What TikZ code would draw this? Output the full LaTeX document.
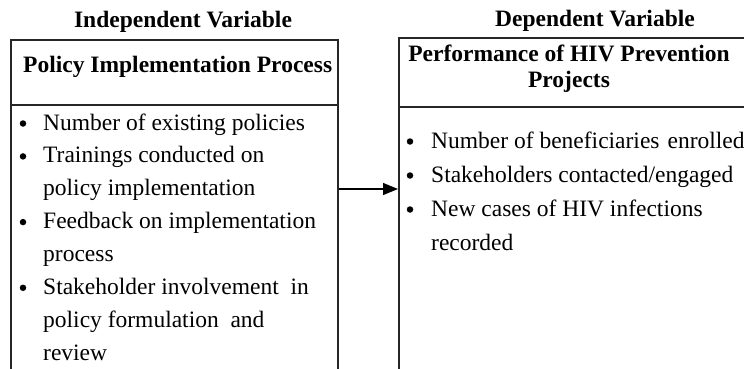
\documentclass[tikz,border=0pt]{standalone}
\usepackage{fontspec}
\setmainfont{Liberation Serif}
\usetikzlibrary{arrows.meta}
\begin{document}
\begin{tikzpicture}[x=1pt,y=-1pt,
  frame/.style={draw=black!85, line width=1.6pt},
  boxshape/.style={frame, rectangle, inner sep=0pt, anchor=north west},
  heading/.style={font=\fontsize{23.5}{26}\selectfont\bfseries, inner sep=0pt, anchor=base},
  item/.style={font=\fontsize{23.5}{28}\selectfont, inner sep=0pt, anchor=base west},
  dot/.style={circle, fill=black, inner sep=0pt, minimum size=6.5pt, yshift=6.5pt}
]
\useasboundingbox (0,0) rectangle (744,369);
\clip (0,0) rectangle (744,369);

% frames of the two variables
\node[boxshape, minimum width=327pt, minimum height=360pt] (ivbox) at (10,39) {};
\node[boxshape, minimum width=400pt, minimum height=360pt] (dvbox) at (398,37) {};
\coordinate (ivdiv) at (0,105);
\coordinate (dvdiv) at (0,107);
\draw[frame] (ivbox.west |- ivdiv) -- (ivbox.east |- ivdiv);
\draw[frame] (dvbox.west |- dvdiv) -- (dvbox.east |- dvdiv);

% link between the variables
\coordinate (arrowrow) at (0,189);
\draw[line width=1.3pt, -{Triangle[length=15pt,width=12pt]}]
  (ivbox.east |- arrowrow) -- (dvbox.west |- arrowrow);

% headings
\node[heading] (ivtitle) at (183,28) {Independent Variable};
\node[heading] (dvtitle) at (595,27) {Dependent Variable};
\node[heading, anchor=base west] (ivhead) at (23,72) {Policy Implementation Process};
\node[heading] (dvhead1) at (569,62) {Performance of HIV Prevention};
\node[heading] (dvhead2) at (569,87) {Projects};

% indicators of the independent variable
\node[dot] (ivb1) at (23,130) {};
\node[item] (ivt1) at (43,130) {Number of existing policies};
\node[dot] (ivb2) at (23,162.9) {};
\node[item] (ivt2) at (43,162.9) {Trainings conducted on};
\node[item] (ivt3) at (43,195.7) {policy implementation};
\node[dot] (ivb4) at (23,228.6) {};
\node[item] (ivt4) at (43,228.6) {Feedback on implementation};
\node[item] (ivt5) at (43,261.4) {process};
\node[dot] (ivb6) at (23,294.3) {};
\node[item] (ivt6) at (43,294.3) {Stakeholder involvement\ \ in};
\node[item] (ivt7) at (43,327.1) {policy formulation\ \ and};
\node[item] (ivt8) at (43,360) {review};

% indicators of the dependent variable
\node[dot] (dvb1) at (410,148) {};
\node[item] (dvt1) at (431,148) {Number of beneficiaries\hspace{8pt}enrolled};
\node[dot] (dvb2) at (410,182) {};
\node[item] (dvt2) at (431,182) {Stakeholders contacted/engaged};
\node[dot] (dvb3) at (410,216) {};
\node[item] (dvt3) at (431,216) {New cases of HIV infections};
\node[item] (dvt4) at (431,250) {recorded};
\end{tikzpicture}
\end{document}
